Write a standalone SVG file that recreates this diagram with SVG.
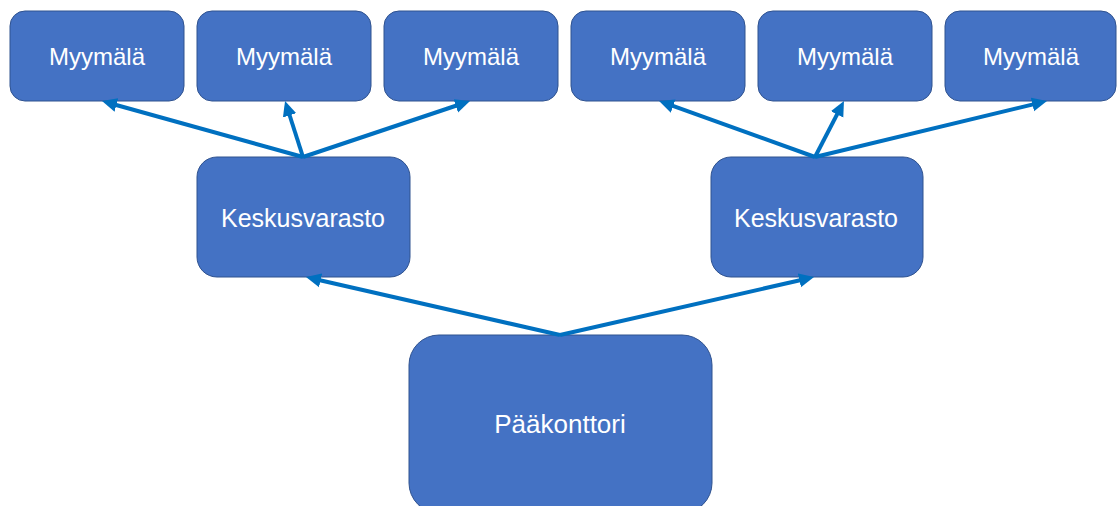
<svg xmlns="http://www.w3.org/2000/svg" width="1117" height="506" viewBox="0 0 1117 506">
  <style>
    .box { fill: #4472C4; stroke: #2F528F; stroke-width: 1; }
    .lbl { fill: #FFFFFF; font-family: "Liberation Sans", Arial, sans-serif; text-anchor: middle; }
    .store { font-size: 24px; }
    .depot { font-size: 25px; }
    .hq { font-size: 26px; }
    .link { stroke: #0070C0; stroke-width: 4; fill: none; marker-end: url(#arrow); }
  </style>
  <defs>
    <marker id="arrow" markerUnits="userSpaceOnUse" markerWidth="16" markerHeight="16" viewBox="0 -8 16 16" refX="4" refY="0" orient="auto">
      <path d="M0,-7 L15,0 L0,7 z" fill="#0070C0"/>
    </marker>
  </defs>
  <rect width="1117" height="506" fill="#FFFFFF"/>

  <!-- stores -->
  <g id="store1"><rect class="box" x="10" y="11" width="174" height="90" rx="15"/><text class="lbl store" x="97" y="65">Myymälä</text></g>
  <g id="store2"><rect class="box" x="197" y="11" width="174" height="90" rx="15"/><text class="lbl store" x="284" y="65">Myymälä</text></g>
  <g id="store3"><rect class="box" x="384" y="11" width="174" height="90" rx="15"/><text class="lbl store" x="471" y="65">Myymälä</text></g>
  <g id="store4"><rect class="box" x="571" y="11" width="174" height="90" rx="15"/><text class="lbl store" x="658" y="65">Myymälä</text></g>
  <g id="store5"><rect class="box" x="758" y="11" width="174" height="90" rx="15"/><text class="lbl store" x="845" y="65">Myymälä</text></g>
  <g id="store6"><rect class="box" x="945" y="11" width="171" height="90" rx="15"/><text class="lbl store" x="1031" y="65">Myymälä</text></g>

  <!-- central warehouses -->
  <g id="depot-left"><rect class="box" x="197" y="157" width="213" height="120" rx="20"/><text class="lbl depot" x="303" y="227">Keskusvarasto</text></g>
  <g id="depot-right"><rect class="box" x="711" y="157" width="212" height="120" rx="20"/><text class="lbl depot" x="816" y="227">Keskusvarasto</text></g>

  <!-- head office, running past the lower edge -->
  <g id="head-office"><rect class="box" x="409" y="335" width="303" height="178" rx="30"/><text class="lbl hq" x="560" y="433">Pääkonttori</text></g>

  <!-- connectors: each line stops 11px short of its arrow tip -->
  <g id="connectors">
    <line class="link" x1="303" y1="157" x2="112.6" y2="104"/>
    <line class="link" x1="303" y1="157" x2="288.4" y2="111.5"/>
    <line class="link" x1="303" y1="157" x2="459.6" y2="104.5"/>
    <line class="link" x1="815" y1="157" x2="669.4" y2="104.7"/>
    <line class="link" x1="815" y1="157" x2="838.9" y2="110.8"/>
    <line class="link" x1="815" y1="157" x2="1036.3" y2="103.6"/>
    <line class="link" x1="560" y1="335" x2="316.7" y2="279.5"/>
    <line class="link" x1="560" y1="335" x2="803.3" y2="279.5"/>
  </g>
</svg>
